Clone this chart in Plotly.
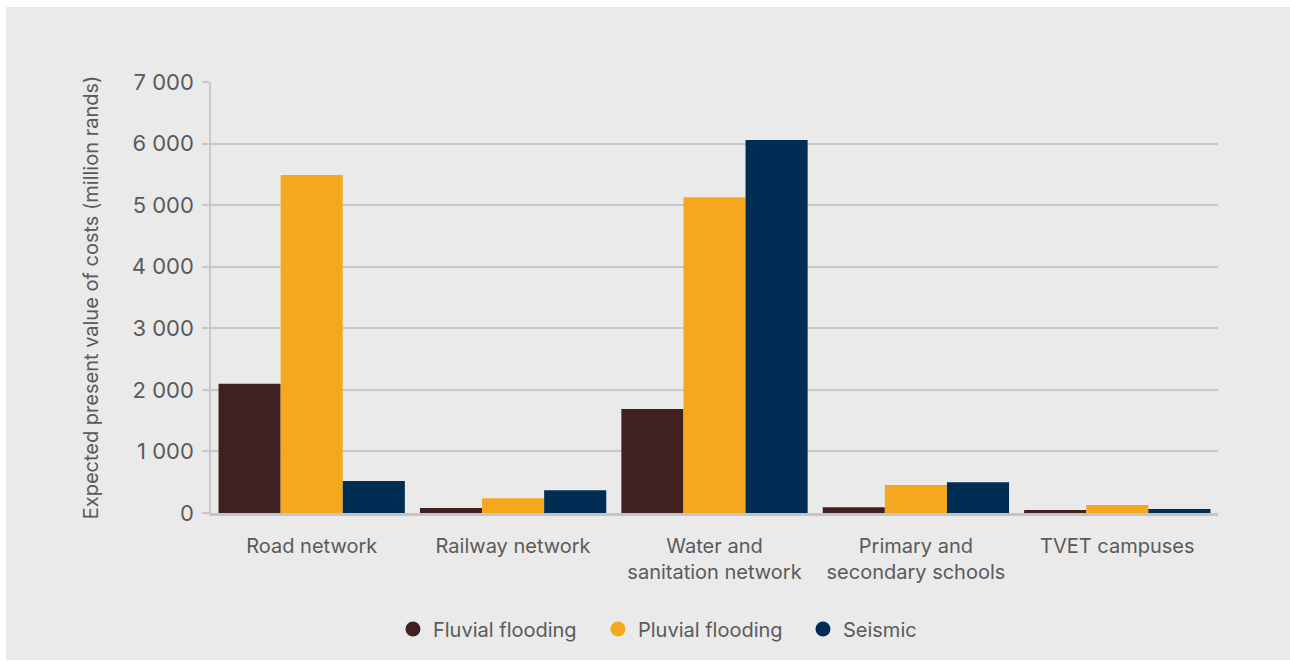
import plotly.graph_objects as go

# Categories and expected present value of costs (million rands)
categories = [
    "Road network",
    "Railway network",
    "Water and<br>sanitation network",
    "Primary and<br>secondary schools",
    "TVET campuses",
]
fluvial = [2100, 80, 1690, 95, 50]
pluvial = [5490, 240, 5130, 455, 130]
seismic = [520, 370, 6060, 500, 65]

series_names = ["Fluvial flooding", "Pluvial flooding", "Seismic"]
series_colors = ["#412022", "#F5A81E", "#002D53"]
y_ticks = [0, 1000, 2000, 3000, 4000, 5000, 6000, 7000]
y_tick_labels = ["0", "1 000", "2 000", "3 000", "4 000", "5 000", "6 000", "7 000"]

W, H = 1290, 661
ML, MR, MT, MB = 211, 72, 82, 148
BG = "#EAEAEA"
TXT = "#5A5A5A"
FONT = "Inter, 'Open Sans', sans-serif"

fig = go.Figure()
for name, vals, col in zip(series_names, [fluvial, pluvial, seismic], series_colors):
    fig.add_trace(go.Bar(x=categories, y=vals, name=name, marker_color=col,
                         marker_line_width=0, showlegend=False))
# Circle markers for the legend
for name, col in zip(series_names, series_colors):
    fig.add_trace(go.Scatter(x=[None], y=[None], mode="markers", name=name,
                             marker=dict(symbol="circle", size=15, color=col)))

pw = W - ML - MR
ph = H - MT - MB
# grey panel behind the chart, inset from the page edge
fig.add_shape(type="rect", xref="paper", yref="paper", layer="below",
              x0=(6 - ML) / pw, x1=(W - ML) / pw,
              y0=-(H - 1 - MT - ph) / ph, y1=(MT - 7) / ph + 1,
              fillcolor=BG, line_width=0)

fig.update_layout(
    width=W, height=H,
    margin=dict(l=ML, r=MR, t=MT, b=MB, pad=0),
    paper_bgcolor="white",
    plot_bgcolor=BG,
    barmode="group",
    bargap=0.075,
    bargroupgap=0,
    font=dict(family=FONT, color=TXT, size=17),
    legend=dict(orientation="h", xref="container", yref="container",
                x=0.543, xanchor="center", y=1 - 629 / H, yanchor="middle",
                font=dict(size=20, color=TXT), itemwidth=30,
                entrywidth=160, entrywidthmode="pixels",
                bgcolor="rgba(0,0,0,0)", traceorder="normal"),
)
fig.update_xaxes(
    showgrid=False, showline=True, linecolor="#C4C4C4", linewidth=2.5,
    ticks="", tickfont=dict(size=20, color=TXT), ticklabelstandoff=13,
)
fig.update_yaxes(
    range=[0, 7000], tickvals=y_ticks, ticktext=y_tick_labels,
    showgrid=True, gridcolor="#C8C8C8", gridwidth=1.5,
    showline=True, linecolor="#C8C8C8", linewidth=1.5,
    ticks="outside", ticklen=7, tickcolor="#C8C8C8", tickwidth=1.5,
    tickfont=dict(size=22, color=TXT), ticklabelstandoff=4,
    zeroline=False,
    title=dict(text="Expected present value of costs (million rands)",
               font=dict(size=20, color=TXT), standoff=28),
)

fig.write_html("out.html")
